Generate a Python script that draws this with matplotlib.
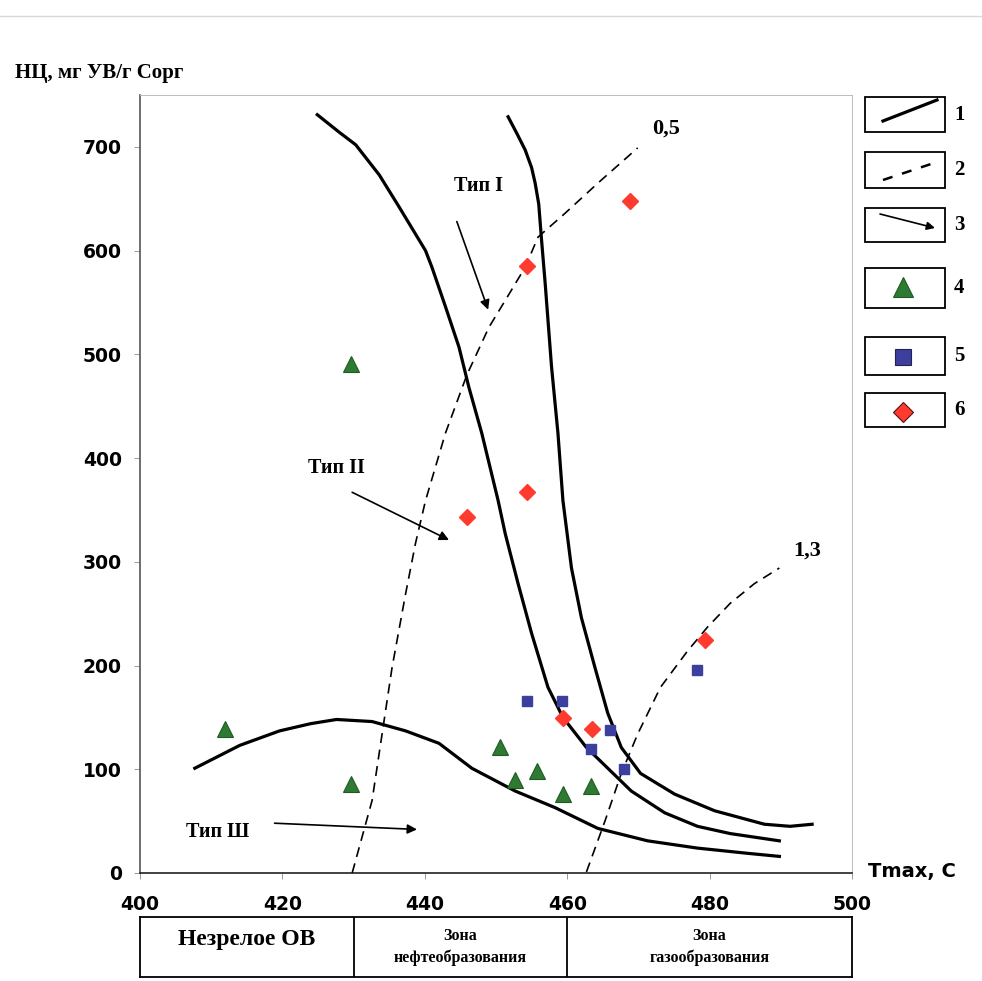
import matplotlib

matplotlib.use("Agg")
import matplotlib.pyplot as plt
from matplotlib.patches import Rectangle

# --- kerogen type boundaries (Tmax, HI) ---
type1_x = [451.7, 453.0, 454.1, 455.0, 455.5, 456.0, 456.4, 456.9, 457.8, 458.7, 459.4, 460.6,
           462.0, 463.9, 465.7, 467.6, 470.3, 475.1, 480.7, 487.7, 491.3, 494.4]
type1_y = [729, 712, 697, 680, 665, 645, 610, 569, 488, 424, 359, 294,
           246, 198, 154, 121, 96, 76, 60, 47, 45, 47]

type2_x = [424.9, 428.0, 430.3, 433.6, 436.4, 440.1, 441.0, 442.9, 444.8, 446.2,
           448.0, 450.3, 451.3, 453.1, 455.0, 457.3, 459.4, 462.7, 465.7, 469.0,
           473.7, 478.3, 482.9, 489.8]
type2_y = [731, 714, 702, 673, 642, 600, 584, 546, 507, 468,
           424, 359, 327, 279, 231, 179, 150, 121, 101, 79,
           58, 45, 38, 31]

type3_x = [407.7, 414.0, 419.6, 424.0, 427.6, 432.6, 437.3, 442.0, 446.6, 452.7, 458.3,
           464.3, 471.3, 478.3, 485.3, 489.8]
type3_y = [101, 123, 137, 144, 148, 146, 137, 125, 101, 79, 63,
           43, 31, 24, 19, 16]

# --- vitrinite reflectance isolines ---
ro05_x = [429.8, 432.6, 435.4, 437.3, 438.7, 440.1, 442.9, 445.9, 449.0, 451.3,
          454.1, 455.9, 459.7, 464.3, 469.9]
ro05_y = [0, 70, 198, 269, 318, 359, 424, 480, 526, 552,
          584, 613, 636, 665, 699]
ro13_x = [462.7, 465.3, 467.6, 469.9, 473.1, 476.9, 479.7, 482.9, 486.3, 489.8]
ro13_y = [1, 50, 96, 134, 179, 214, 237, 260, 279, 294]

# --- samples ---
tri_x = [412.0, 429.7, 429.7, 450.6, 452.6, 455.7, 459.4, 463.4]
tri_y = [139, 491, 86, 121, 90, 98, 76, 84]
sq_x = [454.4, 459.3, 466.0, 463.4, 468.0, 478.3]
sq_y = [166, 166, 138, 120, 100, 196]
dia_x = [468.8, 454.3, 454.3, 445.9, 459.4, 463.5, 479.4]
dia_y = [648, 585, 367, 343, 149, 139, 225]

x_ticks = [400, 420, 440, 460, 480, 500]
y_ticks = [0, 100, 200, 300, 400, 500, 600, 700]

zone_edges = [400, 430, 460, 500]
zone_names = ["Незрелое ОВ", "Зона\nнефтеобразования", "Зона\nгазообразования"]

SERIF = "Liberation Serif"
GREEN, BLUE, RED = "#2f7a32", "#3c3f9e", "#ff3b2f"

W, H = 982, 981
fig = plt.figure(figsize=(W / 100, H / 100), dpi=100)


def fx(px):
    return px / W


def fy(py):
    return 1 - py / H


ax = fig.add_axes([fx(140), fy(873), fx(852) - fx(140), fy(95) - fy(873)])
ax.set_xlim(400, 500)
ax.set_ylim(0, 750)

for xs, ys in [(type1_x, type1_y), (type2_x, type2_y), (type3_x, type3_y)]:
    ax.plot(xs, ys, color="black", lw=2.3, solid_joinstyle="round", zorder=3)
for xs, ys in [(ro05_x, ro05_y), (ro13_x, ro13_y)]:
    ax.plot(xs, ys, color="black", lw=1.2, dashes=(6, 4), zorder=3)

ax.plot(tri_x, tri_y, ls="none", marker="^", ms=12, color=GREEN, mec="#1f5a22", mew=0.8, zorder=4)
ax.plot(sq_x, sq_y, ls="none", marker="s", ms=7.5, color=BLUE, mec=BLUE, zorder=4)
ax.plot(dia_x, dia_y, ls="none", marker="D", ms=8.5, color=RED, mec=RED, zorder=4)

ax.text(471.9, 718, "0,5", family=SERIF, weight="bold", fontsize=16, va="center")
ax.text(491.7, 311, "1,3", family=SERIF, weight="bold", fontsize=16, va="center")

arrow = dict(arrowstyle="-|>", color="black", lw=1.2, mutation_scale=14, shrinkA=0, shrinkB=0)
ax.text(447.6, 662, "Тип I", family=SERIF, weight="bold", fontsize=14.5, ha="center", va="center")
ax.annotate("", xy=(448.9, 543), xytext=(444.5, 628), arrowprops=arrow)
ax.text(427.6, 390, "Тип II", family=SERIF, weight="bold", fontsize=14.5, ha="center", va="center")
ax.annotate("", xy=(443.4, 321), xytext=(429.8, 367), arrowprops=arrow)
ax.text(410.9, 40, "Тип Ш", family=SERIF, weight="bold", fontsize=14.5, ha="center", va="center")
ax.annotate("", xy=(438.9, 42), xytext=(418.9, 48), arrowprops=arrow)

ax.set_xticks(x_ticks)
ax.set_yticks(y_ticks)
ax.tick_params(direction="out", length=4, width=0.6, color="#888888", labelsize=13.5)
ax.tick_params(axis="y", pad=9)
ax.tick_params(axis="x", pad=12)
for lab in ax.get_xticklabels() + ax.get_yticklabels():
    lab.set_fontweight("bold")
    lab.set_family("DejaVu Sans")
ax.spines["left"].set_color("#555555")
ax.spines["bottom"].set_color("#222222")
ax.spines["top"].set_color("#bbbbbb")
ax.spines["right"].set_color("#bbbbbb")
ax.spines["bottom"].set_linewidth(1.2)
ax.spines["left"].set_linewidth(1.2)
ax.spines["top"].set_linewidth(0.7)
ax.spines["right"].set_linewidth(0.7)

fig.text(fx(15), fy(73), "НЦ, мг УВ/г Сорг", family=SERIF, weight="bold", fontsize=15, va="center")
fig.text(fx(868), fy(872), "Tmax, C", family="DejaVu Sans", weight="bold", fontsize=14, va="center")

# --- maturity zone strip ---
tab = fig.add_axes([fx(140), fy(977), fx(852) - fx(140), fy(917) - fy(977)])
tab.set_xlim(400, 500)
tab.set_ylim(0, 1)
tab.set_xticks([])
tab.set_yticks([])
for sp in tab.spines.values():
    sp.set_linewidth(1.3)
for e in zone_edges[1:-1]:
    tab.axvline(e, color="black", lw=1.3)
for i, name in enumerate(zone_names):
    mid = (zone_edges[i] + zone_edges[i + 1]) / 2
    if "\n" in name:
        tab.text(mid, 0.5, name, family=SERIF, weight="bold", fontsize=11.5,
                 ha="center", va="center", linespacing=1.45)
    else:
        tab.text(mid, 0.62, name, family=SERIF, weight="bold", fontsize=17,
                 ha="center", va="center")

# --- legend column (pixel coordinates) ---
leg = fig.add_axes([0, 0, 1, 1], facecolor="none")
leg.set_xlim(0, W)
leg.set_ylim(H, 0)
leg.axis("off")
leg.plot([0, W], [16, 16], color="#d8d8d8", lw=1)  # scan edge
boxes = [(97, 132), (152, 188), (208, 242), (268, 308), (337, 375), (393, 427)]
for i, (top, bot) in enumerate(boxes):
    leg.add_patch(Rectangle((865, top), 80, bot - top, fill=False, ec="black", lw=1.3))
    leg.text(954, (top + bot) / 2, str(i + 1), family=SERIF, weight="bold", fontsize=15,
             va="center", ha="left")
leg.plot([883, 937], [121, 100], color="black", lw=2.3)
leg.plot([883, 937], [180, 162], color="black", lw=1.8, dashes=(4, 4))
leg.annotate("", xy=(935, 228), xytext=(880, 214),
             arrowprops=dict(arrowstyle="-|>", color="black", lw=1.2, mutation_scale=12,
                             shrinkA=0, shrinkB=0))
leg.plot([903], [287], marker="^", ms=14, color=GREEN, mec="#1f5a22", mew=0.8)
leg.plot([903], [357], marker="s", ms=12, color=BLUE, mec="#222255", mew=0.8)
leg.plot([903], [412], marker="D", ms=10, color=RED, mec="#551111", mew=0.8)

fig.savefig("out.png", dpi=100)
